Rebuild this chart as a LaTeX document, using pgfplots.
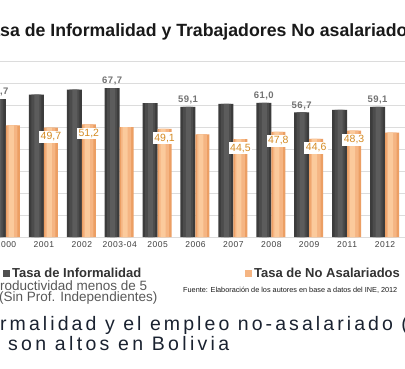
\documentclass[border=0pt]{standalone}
\usepackage{pgfplots}
\usepackage{pgfplotstable}
\pgfplotsset{compat=1.18}
\usepackage{fontspec}
\setmainfont{Liberation Sans}
\definecolor{dk1}{HTML}{3C3C3C}
\definecolor{dk2}{HTML}{4C4C4C}
\definecolor{dk3}{HTML}{5C5C5C}
\definecolor{or1}{HTML}{EC9F64}
\definecolor{or2}{HTML}{F5B583}
\definecolor{or3}{HTML}{FBCA9C}
\definecolor{orlab}{HTML}{D48A22}
\definecolor{gridc}{HTML}{DCDCDC}
\definecolor{navy}{HTML}{1A2230}
\pgfplotstableread{
x inf noas
0 62.7 50.7
1 64.7 49.7
2 67.0 51.2
3 67.7 49.9
4 60.8 49.1
5 59.1 46.6
6 60.5 44.5
7 61.0 47.8
8 56.7 44.6
9 57.8 48.3
10 59.1 47.4
}\data
\begin{document}
\begin{tikzpicture}
\useasboundingbox (0pt,0pt) rectangle (405pt,368pt);
\clip (0pt,0pt) rectangle (405pt,368pt);
\fill[white] (0pt,0pt) rectangle (405pt,368pt);
\begin{axis}[name=ax,
  at={(-31.9pt,131pt)}, anchor=south west,
  scale only axis, width=454.8pt, height=176pt,
  xmin=-1, xmax=11, ymin=0, ymax=80,
  axis line style={draw=none},
  ytick={0,10,...,80}, yticklabels={},
  ymajorgrids, grid style={gridc, line width=0.8pt},
  major tick length=0pt,
  xtick={0,...,10},
  xticklabels={2000,2001,2002,2003-04,2005,2006,2007,2008,2009,2011,2012},
  xticklabel style={font=\fontsize{8.5}{10}\selectfont\addfontfeatures{LetterSpace=6}, text=black!75, yshift=-1pt},
  legend style={at={(0.0767,-0.165)}, anchor=north west, draw=none, fill=none,
    legend columns=2, font=\bfseries\fontsize{13}{15}\selectfont, text=black!80,
    inner sep=0pt, /tikz/every even column/.append style={column sep=0pt}},
  clip=false,
]
\addplot[ybar, bar width=15pt, bar shift=-7.5pt, draw=none, fill=dk1,
  legend image code/.code={\fill[dk1!90] (0pt,-3.5pt) rectangle (7pt,3.5pt);}]
  table[x=x, y=inf] {\data};
\addlegendentry{\makebox[231pt][l]{Tasa de Informalidad}}
\addplot[ybar, bar width=14pt, bar shift=7pt, draw=none, fill=or1,
  legend image code/.code={\fill[or2] (0pt,-3.5pt) rectangle (7pt,3.5pt);}]
  table[x=x, y=noas] {\data};
\addlegendentry{Tasa de No Asalariados}
\addplot[ybar, forget plot, bar width=10pt, bar shift=-7.5pt, draw=none, fill=dk2] table[x=x, y=inf] {\data};
\addplot[ybar, forget plot, bar width=5pt, bar shift=-7pt, draw=none, fill=dk3] table[x=x, y=inf] {\data};
\addplot[ybar, forget plot, bar width=10pt, bar shift=6.5pt, draw=none, fill=or2] table[x=x, y=noas] {\data};
\addplot[ybar, forget plot, bar width=5pt, bar shift=5.5pt, draw=none, fill=or3] table[x=x, y=noas] {\data};
\addplot[draw=none, mark=none, forget plot, point meta=explicit symbolic, nodes near coords,
  nodes near coords style={font=\bfseries\fontsize{9.5}{11}\selectfont\addfontfeatures{LetterSpace=5}, text=black!55, anchor=south, xshift=-7.5pt, yshift=1.5pt, inner sep=1pt}]
  coordinates {(0,62.7) [62,7] (3,67.7) [67,7] (5,59.1) [59,1] (7,61.0) [61,0] (8,56.7) [56,7] (10,59.1) [59,1]};
\addplot[draw=none, mark=none, forget plot, point meta=explicit symbolic, nodes near coords,
  nodes near coords style={font=\fontsize{10.5}{12}\selectfont, text=orlab, fill=white, anchor=north, xshift=7pt, yshift=-3pt, inner sep=1.5pt}]
  coordinates {(1,49.7) [49,7] (2,51.2) [51,2] (4,49.1) [49,1] (6,44.5) [44,5] (7,47.8) [47,8] (8,44.6) [44,6] (9,48.3) [48,3]};
\end{axis}
\node[anchor=base west, inner sep=0pt, font=\bfseries\fontsize{17.7}{20}\selectfont, text=black!90] at (0pt,331pt) {\llap{Ta}sa de Informalidad y Trabajadores No asalariados};
\node[anchor=base west, inner sep=0pt, font=\fontsize{13.5}{16}\selectfont, text=black!65] at (0pt,78pt) {\llap{P}roductividad menos de 5};
\node[anchor=base west, inner sep=0pt, font=\fontsize{13.5}{16}\selectfont, text=black!65] at (-1pt,67pt) {(Sin Prof. Independientes)};
\node[anchor=base west, inner sep=0pt, font=\fontsize{7.3}{9}\selectfont, text=black!90] at (183pt,76pt) {Fuente: Elaboración de los autores en base a datos del INE, 2012};
\node[anchor=base west, inner sep=0pt, font=\fontsize{19.5}{22}\selectfont\addfontfeatures{LetterSpace=15.8}, text=navy] at (0pt,38pt) {\llap{La info}rmalidad y el empleo no-asalariado (informal)};
\node[anchor=base west, inner sep=0pt, font=\fontsize{19.5}{22}\selectfont\addfontfeatures{LetterSpace=17}, text=navy] at (8pt,18pt) {son altos en Bolivia};
\end{tikzpicture}
\end{document}
